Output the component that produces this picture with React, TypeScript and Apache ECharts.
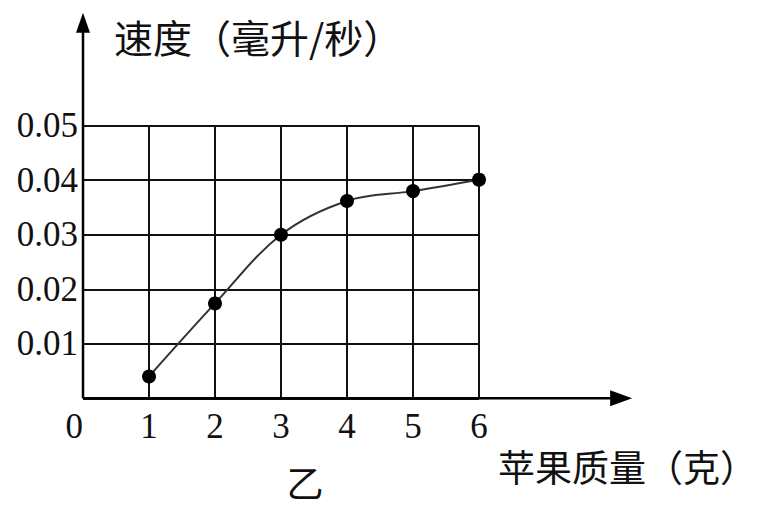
import React, { useEffect, useRef } from 'react';
import * as echarts from 'echarts';

// 苹果质量（克）与速度（毫升/秒）
const massValues = [1, 2, 3, 4, 5, 6];
const speedValues = [0.004, 0.0174, 0.03, 0.0362, 0.038, 0.0401];

const xAxisMax = 6;
const yAxisMax = 0.05;
const yTickStep = 0.01;
// how far the drawn axis arrows reach, in data units
const xArrowEnd = 8.32;
const yArrowEnd = 0.0707;

const yTitle = '速度（毫升/秒）';
const xTitle = '苹果质量（克）';
const caption = '乙';

const serif = '"Liberation Serif", "DejaVu Serif", serif';
const cjk = '"Noto Sans CJK SC", sans-serif';

const App: React.FC = () => {
	const chartRef = useRef<HTMLDivElement>(null);

	useEffect(() => {
		if (!chartRef.current) return;
		document.body.style.margin = '0';
		const chart = echarts.init(chartRef.current, undefined, { renderer: 'svg' });

		const option: echarts.EChartsOption = {
			animation: false,
			backgroundColor: '#fff',
			grid: { left: 83, top: 125.7, width: 396, height: 272.6 },
			xAxis: {
				type: 'value',
				min: 0,
				max: xAxisMax,
				interval: 1,
				axisLine: { show: false },
				axisTick: { show: false },
				axisLabel: {
					color: '#111',
					fontSize: 35,
					fontFamily: serif,
					margin: 11,
					formatter: (v: number) => (v === 0 ? '0  ' : String(v))
				},
				splitLine: { show: true, lineStyle: { color: '#111', width: 2 } }
			},
			yAxis: {
				type: 'value',
				min: 0,
				max: yAxisMax,
				interval: yTickStep,
				axisLine: { show: false },
				axisTick: { show: false },
				axisLabel: {
					color: '#111',
					fontSize: 35,
					fontFamily: serif,
					margin: 5,
					showMinLabel: false,
					formatter: (v: number) => v.toFixed(2)
				},
				splitLine: { show: true, lineStyle: { color: '#111', width: 2 } }
			},
			series: [
				{
					type: 'line',
					data: massValues.map((m, i) => [m, speedValues[i]]),
					smooth: 0.35,
					symbol: 'circle',
					symbolSize: 14,
					itemStyle: { color: '#000' },
					lineStyle: { color: '#333', width: 2 },
					z: 5
				}
			]
		};

		chart.setOption(option);

		// axes with arrow heads, placed through the grid's own scale
		const o = chart.convertToPixel({ gridIndex: 0 }, [0, 0]) as number[];
		const xe = chart.convertToPixel({ gridIndex: 0 }, [xArrowEnd, 0]) as number[];
		const ye = chart.convertToPixel({ gridIndex: 0 }, [0, yArrowEnd]) as number[];

		chart.setOption({
			graphic: [
				{
					type: 'line',
					shape: { x1: o[0], y1: o[1], x2: xe[0] - 10, y2: o[1] },
					style: { stroke: '#000', lineWidth: 2.5 },
					z: 10
				},
				{
					type: 'polygon',
					shape: {
						points: [
							[xe[0], o[1]],
							[xe[0] - 22, o[1] - 8],
							[xe[0] - 22, o[1] + 8]
						]
					},
					style: { fill: '#000' },
					z: 10
				},
				{
					type: 'line',
					shape: { x1: o[0], y1: o[1], x2: o[0], y2: ye[1] + 10 },
					style: { stroke: '#000', lineWidth: 2.5 },
					z: 10
				},
				{
					type: 'polygon',
					shape: {
						points: [
							[o[0], ye[1]],
							[o[0] - 7, ye[1] + 20],
							[o[0] + 7, ye[1] + 20]
						]
					},
					style: { fill: '#000' },
					z: 10
				},
				{
					type: 'text',
					x: 114,
					y: 36,
					style: {
						text: yTitle,
						fontSize: 39,
						fontFamily: cjk,
						fill: '#111',
						align: 'left',
						verticalAlign: 'middle'
					}
				},
				{
					type: 'text',
					x: 498,
					y: 466,
					style: {
						text: xTitle,
						fontSize: 37,
						fontFamily: cjk,
						fill: '#111',
						align: 'left',
						verticalAlign: 'middle'
					}
				},
				{
					type: 'text',
					x: 305,
					y: 482,
					style: {
						text: caption,
						fontSize: 37,
						fontFamily: cjk,
						fill: '#111',
						align: 'center',
						verticalAlign: 'middle'
					}
				}
			]
		});

		return () => {
			chart.dispose();
		};
	}, []);

	return <div ref={chartRef} style={{ width: '762px', height: '513px' }} />;
};

export default App;
